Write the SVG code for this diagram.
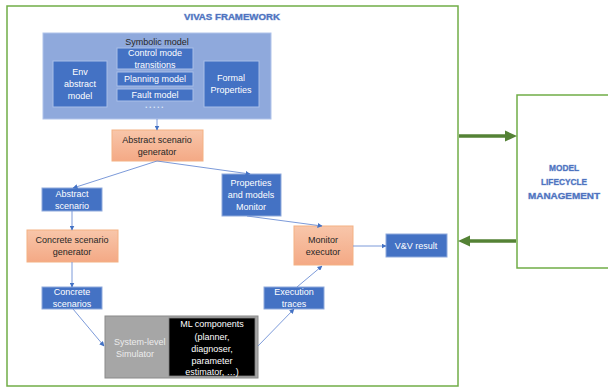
<svg xmlns="http://www.w3.org/2000/svg" width="608" height="388" viewBox="0 0 608 388">
<style>
text{font-family:"Liberation Sans",Arial,sans-serif;font-size:9px;text-anchor:middle}
.w{fill:#ffffff}
.d{fill:#262626}
.blue{fill:#4472C4;stroke:#8FAADC;stroke-width:1}
.inner{fill:#4472C4;stroke:#A9BFE8;stroke-width:1}
.sal{fill:url(#salg);stroke:#F4B183;stroke-width:1}
.frame{fill:none;stroke:#70AD47;stroke-width:1.5}
.title{font-weight:bold;fill:#4F73BE;stroke:#9DB5E3;stroke-width:0.6;paint-order:stroke}
.con{fill:none;stroke:#6D8FD5;stroke-width:0.9;marker-end:url(#ah)}
.garrow{fill:none;stroke:#548235;stroke-width:3.5}
</style>
<defs>
<linearGradient id="salg" x1="0" y1="0" x2="0" y2="1">
<stop offset="0" stop-color="#F8C6AA"/>
<stop offset="1" stop-color="#F4A985"/>
</linearGradient>
<marker id="ah" viewBox="0 0 10 10" refX="9" refY="5" markerWidth="5" markerHeight="5" orient="auto" markerUnits="userSpaceOnUse">
<path d="M0,0 L10,5 L0,10 z" fill="#4472C4"/>
</marker>
</defs>

<g id="vivas-frame">
<rect class="frame" x="7" y="6" width="451" height="380"/>
<text class="title" x="232" y="20" font-size="10" textLength="96" lengthAdjust="spacingAndGlyphs">VIVAS FRAMEWORK</text>
</g>

<g id="model-lifecycle">
<path class="frame" d="M610,95 H517 V268 H610"/>
<text class="title" x="564" y="171" font-size="9" textLength="30" lengthAdjust="spacingAndGlyphs">MODEL</text>
<text class="title" x="564" y="185" font-size="9" textLength="46" lengthAdjust="spacingAndGlyphs">LIFECYCLE</text>
<text class="title" x="564" y="199" font-size="9" textLength="72" lengthAdjust="spacingAndGlyphs">MANAGEMENT</text>
</g>

<g id="green-arrows">
<line class="garrow" x1="459" y1="136" x2="507" y2="136"/>
<path d="M505,130.5 L517,136 L505,141.5 z" fill="#548235"/>
<line class="garrow" x1="516" y1="241" x2="468" y2="241"/>
<path d="M470,235.5 L458,241 L470,246.5 z" fill="#548235"/>
</g>

<g id="symbolic-model">
<rect x="43" y="33" width="228" height="86" fill="#8FA9DC" stroke="#B0C3EA" stroke-width="1"/>
<text class="d" x="157" y="45">Symbolic model</text>
</g>
<g id="control-mode">
<rect class="inner" x="117" y="48" width="76" height="21"/>
<text class="w" x="155" y="56">Control mode</text>
<text class="w" x="155" y="68">transitions</text>
</g>
<g id="planning-model">
<rect class="inner" x="117" y="72" width="76" height="14"/>
<text class="w" x="155" y="82">Planning model</text>
</g>
<g id="fault-model">
<rect class="inner" x="117" y="89" width="76" height="12"/>
<text class="w" x="155" y="98">Fault model</text>
</g>
<g id="dots">
<text x="155" y="108" fill="#DCE6F7" font-size="9" letter-spacing="1.5" font-weight="bold">.....</text>
</g>
<g id="env-abstract-model">
<rect class="inner" x="53" y="61" width="54" height="46"/>
<text class="w" x="80" y="75">Env</text>
<text class="w" x="80" y="87">abstract</text>
<text class="w" x="80" y="99">model</text>
</g>
<g id="formal-properties">
<rect class="inner" x="204" y="61" width="55" height="46"/>
<text class="w" x="231" y="81">Formal</text>
<text class="w" x="231" y="93">Properties</text>
</g>

<g id="abstract-scenario-generator">
<rect class="sal" x="112" y="130" width="91" height="31"/>
<text class="d" x="157" y="143">Abstract scenario</text>
<text class="d" x="157" y="155">generator</text>
</g>

<g id="abstract-scenario">
<rect class="blue" x="42" y="188" width="60" height="23"/>
<text class="w" x="72" y="197">Abstract</text>
<text class="w" x="72" y="209">scenario</text>
</g>

<g id="properties-monitor">
<rect class="blue" x="222" y="174" width="59" height="42"/>
<text class="w" x="251" y="186">Properties</text>
<text class="w" x="251" y="198">and models</text>
<text class="w" x="251" y="210">Monitor</text>
</g>

<g id="concrete-scenario-generator">
<rect class="sal" x="27" y="230" width="91" height="32"/>
<text class="d" x="72" y="243">Concrete scenario</text>
<text class="d" x="72" y="255">generator</text>
</g>

<g id="monitor-executor">
<rect class="sal" x="294" y="226" width="59" height="39"/>
<text class="d" x="323" y="243">Monitor</text>
<text class="d" x="323" y="255">executor</text>
</g>

<g id="vv-result">
<rect class="blue" x="386" y="234" width="61" height="23"/>
<text class="w" x="416" y="249">V&amp;V result</text>
</g>

<g id="concrete-scenarios">
<rect class="blue" x="42" y="287" width="60" height="22"/>
<text class="w" x="72" y="295">Concrete</text>
<text class="w" x="72" y="307">scenarios</text>
</g>

<g id="execution-traces">
<rect class="blue" x="264" y="287" width="60" height="22"/>
<text class="w" x="294" y="295">Execution</text>
<text class="w" x="294" y="307">traces</text>
</g>

<g id="system-simulator">
<rect x="105" y="316" width="153" height="62" fill="#A6A6A6" stroke="#8A8A8A" stroke-width="1"/>
<text x="114" y="345" fill="#ECECEC" style="text-anchor:start">System-level</text>
<text x="116" y="357" fill="#ECECEC" style="text-anchor:start">Simulator</text>
</g>

<g id="ml-components">
<rect x="169" y="318" width="86" height="58" fill="#000000" stroke="#7F7F7F" stroke-width="0.8"/>
<text class="w" x="212" y="327">ML components</text>
<text class="w" x="212" y="339.5">(planner,</text>
<text class="w" x="212" y="351.5">diagnoser,</text>
<text class="w" x="212" y="363.5">parameter</text>
<text class="w" x="212" y="375">estimator, …)</text>
</g>

<g id="connectors">
<line class="con" x1="157" y1="119" x2="157" y2="130"/>
<line class="con" x1="157" y1="161" x2="73" y2="188"/>
<line class="con" x1="157" y1="161" x2="250" y2="174"/>
<line class="con" x1="72" y1="211" x2="72" y2="230"/>
<line class="con" x1="72" y1="262" x2="72" y2="287"/>
<line class="con" x1="73" y1="309" x2="104" y2="346"/>
<line class="con" x1="258" y1="346" x2="294" y2="309"/>
<line class="con" x1="297" y1="287" x2="322" y2="266"/>
<line class="con" x1="247" y1="216" x2="322" y2="226"/>
<line class="con" x1="353" y1="246" x2="386" y2="246"/>
</g>
</svg>
